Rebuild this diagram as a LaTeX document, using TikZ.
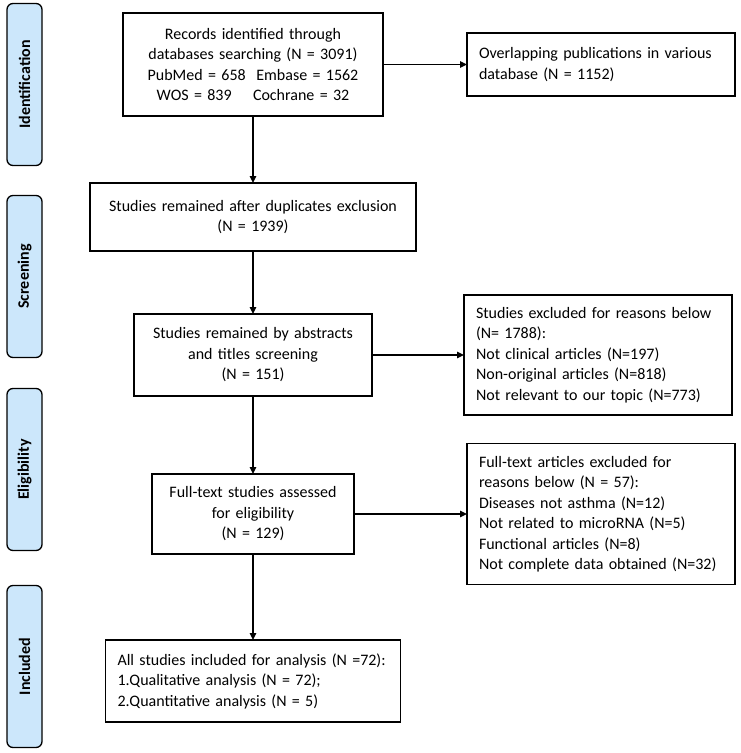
\documentclass[tikz,border=0pt]{standalone}
\usepackage{fontspec}
\setmainfont{Carlito}
\usetikzlibrary{positioning, arrows.meta}
\definecolor{stageblue}{RGB}{204,231,251}
\tikzset{
every node/.style = {font = \fontsize{16}{20.5}\selectfont},
process/.style = {rectangle, draw, line width = 1.3pt, inner xsep = 12pt,
   inner ysep = 0pt, outer sep = 0pt, align = center},
reason/.style = {process, align = left},
stage/.style = {rectangle, draw, line width = 1.3pt, rounded corners = 6pt,
   fill = stageblue, minimum width = 35pt, minimum height = 162pt,
   inner sep = 0pt, outer sep = 0pt, font = \fontsize{16}{20}\selectfont\bfseries},
flow/.style = {-{Triangle[length = 7pt, width = 6.5pt]}, line width = 1.3pt}
}

\begin{document}
\begin{tikzpicture}[x = 1pt, y = 1pt]
\useasboundingbox (0,0) rectangle (741,-753);

%% Stages
\node [stage] (S1) at (24.5,-84.5) {\rotatebox{90}{Identification}};
\node [stage] (S2) [below = 30pt of S1] {\rotatebox{90}{Screening}};
\node [stage] (S3) [below = 31pt of S2] {\rotatebox{90}{Eligibility}};
\node [stage] (S4) [below = 35pt of S3] {\rotatebox{90}{Included}};

%% Main column
\node [process, text width = 236pt, minimum height = 103pt] (A) at (253,-64.5)
   {Records identified through\\databases searching (N = 3091)\\
    PubMed = 658\ \ Embase = 1562\\WOS = 839\quad\ Cochrane = 32};
\node [process, text width = 302pt, minimum height = 68pt] (C) [below = 67pt of A]
   {Studies remained after duplicates exclusion\\(N = 1939)};
\node [process, text width = 214pt, minimum height = 82pt] (D) [below = 63pt of C]
   {Studies remained by abstracts\\and titles screening\\(N = 151)};
\node [process, text width = 178pt, minimum height = 80pt] (E) [below = 78pt of D]
   {Full-text studies assessed\\for eligibility\\(N = 129)};
\node [reason, text width = 271pt, minimum height = 82pt] (H) [below = 86pt of E]
   {All studies included for analysis (N =72):\\1.Qualitative analysis (N = 72);\\
    2.Quantitative analysis (N = 5)};

%% Exclusions
\node [reason, text width = 244pt, minimum height = 63pt] (B) [right = 84pt of A]
   {Overlapping publications in various\\database (N = 1152)};
\node [reason, text width = 244pt, minimum height = 120pt] (F) [right = 92pt of D]
   {Studies excluded for reasons below\\(N= 1788):\\Not clinical articles (N=197)\\
    Non-original articles (N=818)\\Not relevant to our topic (N=773)};
\node [reason, text width = 244pt, minimum height = 141pt] (G) [right = 113pt of E]
   {Full-text articles excluded for\\reasons below (N = 57):\\Diseases not asthma (N=12)\\
    Not related to microRNA (N=5)\\Functional articles (N=8)\\
    Not complete data obtained (N=32)};

%% Arrows
\draw [flow] (A) -- (C);
\draw [flow] (C) -- (D);
\draw [flow] (D) -- (E);
\draw [flow] (E) -- (H);
\draw [flow] (A.east) -- (A.east -| B.west);
\draw [flow] (D.east) -- (D.east -| F.west);
\draw [flow] (E.east) -- (E.east -| G.west);

\end{tikzpicture}
\end{document}
